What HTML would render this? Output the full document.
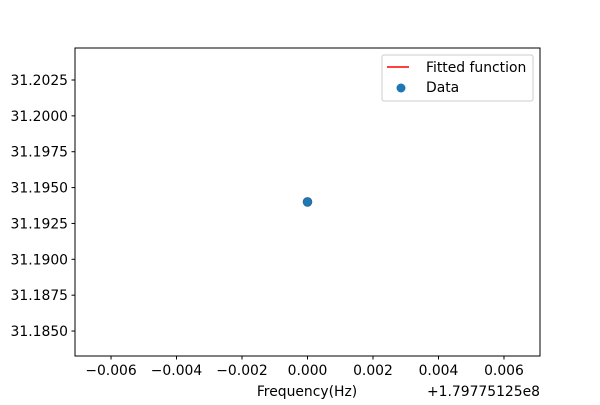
<!DOCTYPE html>
<html><head><meta charset="utf-8"><style>
html,body{margin:0;padding:0;background:#fff;}
svg text{font-family:"DejaVu Sans","Liberation Sans",sans-serif;font-size:13.9px;fill:#000;}
</style></head><body>
<svg id="chart" width="600" height="400" xmlns="http://www.w3.org/2000/svg">
<rect x="0" y="0" width="600" height="400" fill="#fff"/>
<g id="ticks"></g>
<g id="marks"></g>
<rect x="75" y="48" width="465" height="308" fill="none" stroke="#000" stroke-width="1"/>
<text x="307" y="396" text-anchor="middle">Frequency(Hz)</text>
<text x="540" y="396" text-anchor="end">+1.79775125e8</text>
<g>
<rect x="382" y="55" width="151" height="46" rx="2" fill="#fff" fill-opacity="0.8" stroke="#ccc"/>
<line x1="387" y1="67" x2="409" y2="67" stroke="#ff0000" stroke-width="1.5"/>
<text x="426" y="72">Fitted function</text>
<circle cx="401" cy="88" r="4.5" fill="#1f77b4"/>
<text x="426" y="92">Data</text>
</g>
</svg>
<script>
const xTicks = [-0.006, -0.004, -0.002, 0.000, 0.002, 0.004, 0.006];
const xTickLabels = ["\u22120.006", "\u22120.004", "\u22120.002", "0.000", "0.002", "0.004", "0.006"];
const yTicks = [31.1850, 31.1875, 31.1900, 31.1925, 31.1950, 31.1975, 31.2000, 31.2025];
const yTickLabels = ["31.1850", "31.1875", "31.1900", "31.1925", "31.1950", "31.1975", "31.2000", "31.2025"];
const dataX = [0.0];
const dataY = [31.194];

const X0 = 75, X1 = 540, Y0 = 48, Y1 = 356;
const xMin = -0.0071, xMax = 0.0071;
const yMin = 31.18326, yMax = 31.20473;
function sx(v){ return X0 + (v - xMin) / (xMax - xMin) * (X1 - X0); }
function sy(v){ return Y1 - (v - yMin) / (yMax - yMin) * (Y1 - Y0); }
const NS = "http://www.w3.org/2000/svg";
const tg = document.getElementById('ticks');
const mg = document.getElementById('marks');
function mk(tag, attrs, parent){ const e = document.createElementNS(NS, tag); for (const k in attrs) e.setAttribute(k, attrs[k]); parent.appendChild(e); return e; }
xTicks.forEach((v, i) => {
  const x = sx(v);
  const l = mk('line', {x1:x, y1:Y1, x2:x, y2:Y1+3.5, stroke:'#000'}, tg);
  
  
  const t = mk('text', {x:x, y:Y1+19, 'text-anchor':'middle'}, tg);
  t.textContent = xTickLabels[i];
  
  
});
yTicks.forEach((v, i) => {
  const y = sy(v);
  const l = mk('line', {x1:X0-3.5, y1:y, x2:X0, y2:y, stroke:'#000'}, tg);
  
  
  const t = mk('text', {x:X0-7, y:y+5, 'text-anchor':'end'}, tg);
  t.textContent = yTickLabels[i];
  
  
});
dataX.forEach((v, i) => {
  const c = mk('circle', {cx:sx(v), cy:sy(dataY[i]), r:4.5, fill:'#1f77b4', stroke:'#2a5d84', 'stroke-width':0.6}, mg);
  
  
});
const fl = mk('polyline', {points: dataX.map((v,i)=>sx(v)+','+sy(dataY[i])).join(' '), fill:'none', stroke:'#ff0000', 'stroke-width':1.5}, mg);


</script>
</body></html>
